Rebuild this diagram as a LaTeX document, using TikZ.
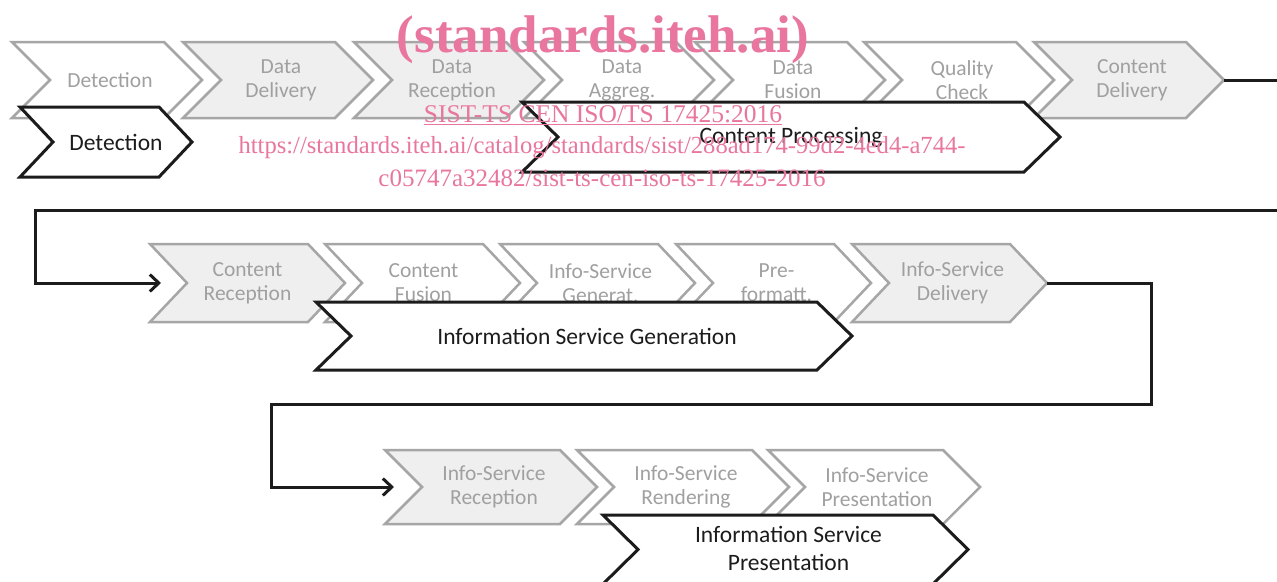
\documentclass[tikz,border=0pt]{standalone}
\usepackage{fontspec}
\setmainfont{Carlito}
\newfontfamily\wmfont{Liberation Serif}
\usetikzlibrary{arrows.meta}
\definecolor{gfill}{RGB}{239,239,239}
\definecolor{gline}{RGB}{166,166,166}
\definecolor{gtext}{RGB}{160,160,160}
\definecolor{btext}{RGB}{28,28,28}
\definecolor{wmpink}{RGB}{232,118,158}
% #1 name, #2 left, #3 top, #4 width, #5 height, #6 depth, #7 shape style, #8 text style, #9 text
\newcommand\chev[9]{%
  \draw[#7] (#2,#3) -- ++({#4-#6},0) -- ++(#6,{#5/2}) -- ++({-#6},{#5/2})
     -- ++({#6-#4},0) -- ++(#6,{-#5/2}) -- cycle;
  \node[#8] (#1) at ({#2+#4/2+3},{#3+#5/2}) {#9};
  \coordinate (#1-tip) at ({#2+#4},{#3+#5/2});
  \coordinate (#1-notch) at ({#2+#6},{#3+#5/2});
}
\tikzset{
  gchev/.style={draw=gline, line width=2.5pt, fill=gfill, line join=miter},
  wchev/.style={draw=gline, line width=2.5pt, fill=white, line join=miter},
  bchev/.style={draw=btext, line width=3pt, fill=white, line join=miter},
  gtxt/.style={text=gtext, font=\fontsize{21.5}{24}\selectfont, align=center, inner sep=0pt},
  btxt/.style={text=btext, font=\fontsize{23.5}{28}\selectfont, align=center, inner sep=0pt},
  conn/.style={draw=btext, line width=3pt},
  arr/.style={-{Straight Barb[length=9pt,width=17pt]}},
  wm/.style={text=wmpink, inner sep=0pt, anchor=base},
}
\begin{document}
\begin{tikzpicture}[x=1pt,y=-1pt]
\clip (0,0) rectangle (1277,581);
\fill[white] (0,0) rectangle (1277,581);
% row 1
\chev{det}{12}{42}{190}{76}{38}{wchev}{gtxt}{Detection}
\chev{ddel}{183}{42}{190}{76}{38}{gchev}{gtxt}{Data\\Delivery}
\chev{drec}{354}{42}{190}{76}{38}{gchev}{gtxt}{Data\\Reception}
\chev{dagg}{524}{42}{190}{76}{38}{wchev}{gtxt}{Data\\Aggreg.}
\chev{dfus}{695}{42}{190}{76}{38}{wchev}{gtxt}{Data\\Fusion}
\chev{qchk}{864}{42}{190}{76}{38}{wchev}{gtxt}{Quality\\Check}
\chev{cdel}{1034}{42}{190}{76}{38}{gchev}{gtxt}{Content\\Delivery}
% row 2
\chev{crec}{150}{244}{195}{78}{37}{gchev}{gtxt,xshift=-3pt}{Content\\Reception}
\chev{cfus}{325}{244}{195}{78}{37}{wchev}{gtxt,xshift=-2pt}{Content\\Fusion}
\chev{isgen}{500}{244}{195}{78}{37}{wchev}{gtxt}{Info-Service\\Generat.}
\chev{prefmt}{676}{244}{195}{78}{37}{wchev}{gtxt}{Pre-\\formatt.}
\chev{isdel}{852}{244}{195}{78}{37}{gchev}{gtxt}{Info-Service\\Delivery}
% row 3
\chev{isrec}{385}{450}{212}{74}{37}{gchev}{gtxt}{Info-Service\\Reception}
\chev{isrend}{577}{450}{212}{74}{37}{wchev}{gtxt}{Info-Service\\Rendering}
\chev{ispres}{768}{450}{212}{74}{37}{wchev}{gtxt}{Info-Service\\Presentation}
% black phase chevrons
\chev{bdet}{20}{107}{172}{70}{33}{bchev}{btxt,xshift=7pt}{Detection}
\chev{cproc}{522}{102}{538}{70}{36}{bchev}{btxt,xshift=-3pt}{Content Processing}
\chev{isg}{316}{302}{536}{68}{35}{bchev}{btxt}{Information Service Generation}
\chev{isp}{603}{515}{365}{69}{35}{bchev}{btxt,yshift=1pt}{Information Service\\Presentation}
% connectors
\coordinate (c1a) at (1300,210);
\coordinate (c1b) at (35,210);
\draw[conn,arr,shorten >=26pt] (cdel-tip) -| (c1a) -- (c1b) |- (crec-notch);
\coordinate (c2a) at (1151,404);
\coordinate (c2b) at (271,404);
\draw[conn,arr,shorten >=28pt] (isdel-tip) -| (c2a) -- (c2b) |- (isrec-notch);
% watermark
\node[wm, font=\wmfont\bfseries\fontsize{53}{53}\selectfont] (wm1) at (603,52) {(standards.iteh.ai)};
\node[wm, font=\wmfont\fontsize{25.5}{26}\selectfont] (wm2) at (603,122) {\underline{SIST-TS CEN ISO/TS 17425:2016}};
\node[wm, font=\wmfont\fontsize{24.6}{26}\selectfont] (wm3) at (602,153) {https://standards.iteh.ai/catalog/standards/sist/288ad174-99d2-4ed4-a744-};
\node[wm, font=\wmfont\fontsize{25}{26}\selectfont] (wm4) at (602,186) {c05747a32482/sist-ts-cen-iso-ts-17425-2016};
\end{tikzpicture}
\end{document}
